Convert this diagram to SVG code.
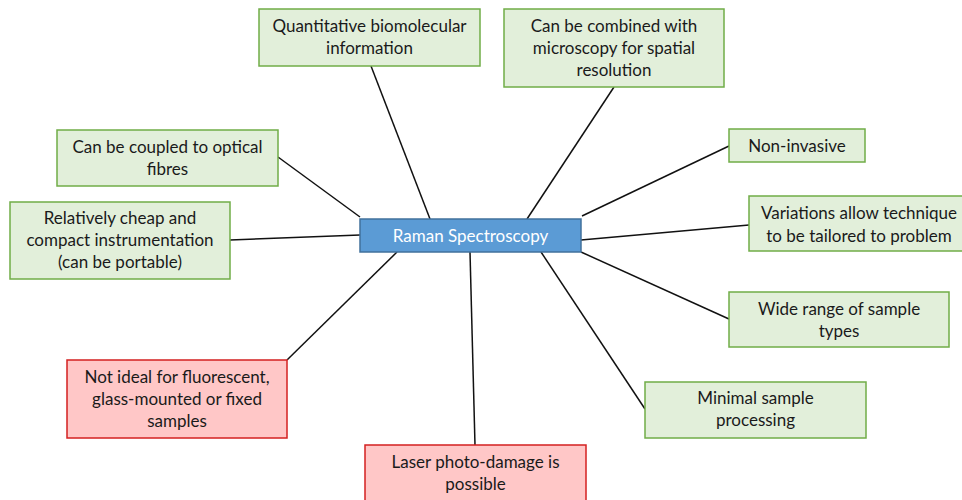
<svg xmlns="http://www.w3.org/2000/svg" width="962" height="500" viewBox="0 0 962 500">
<style>
.g rect{fill:#E2EFDA;stroke:#70AD47;stroke-width:1.5}
.r rect{fill:#FFC7C7;stroke:#D42020;stroke-width:1.5}
.c rect{fill:#5B9BD5;stroke:#41719C;stroke-width:1.5}
text{font-family:Lato,"Open Sans",sans-serif;font-size:17px;fill:#1a1a1a;text-anchor:middle}
.c text{fill:#ffffff}
#connectors line{stroke:#111;stroke-width:1.5}
</style>
<rect width="962" height="500" fill="#ffffff"/>
<g id="connectors">
<line x1="371" y1="66" x2="430" y2="219"/>
<line x1="614" y1="87" x2="527" y2="219"/>
<line x1="729" y1="146" x2="582" y2="216"/>
<line x1="749" y1="225" x2="581" y2="240"/>
<line x1="729" y1="319" x2="581" y2="252"/>
<line x1="645" y1="409" x2="541" y2="252"/>
<line x1="475" y1="445" x2="470" y2="252"/>
<line x1="287" y1="360" x2="397" y2="252"/>
<line x1="230" y1="240" x2="360" y2="235"/>
<line x1="278" y1="157" x2="360" y2="217"/>
</g>
<g id="center" class="c"><rect x="360" y="219" width="221" height="33"/><text x="470.5" y="242">Raman Spectroscopy</text></g>
<g id="quant" class="g"><rect x="259" y="9" width="221" height="57"/><text x="369.5" y="32">Quantitative biomolecular</text><text x="369.5" y="54">information</text></g>
<g id="micro" class="g"><rect x="504" y="9" width="220" height="78"/><text x="614" y="32">Can be combined with</text><text x="614" y="54">microscopy for spatial</text><text x="614" y="76">resolution</text></g>
<g id="noninv" class="g"><rect x="729" y="129" width="136" height="33"/><text x="797" y="152">Non-invasive</text></g>
<g id="variations" class="g"><rect x="749" y="196" width="216" height="55"/><text x="859" y="219">Variations allow technique</text><text x="859" y="242">to be tailored to problem</text></g>
<g id="widerange" class="g"><rect x="729" y="292" width="220" height="55"/><text x="839" y="315">Wide range of sample</text><text x="839" y="337">types</text></g>
<g id="minimal" class="g"><rect x="645" y="382" width="221" height="56"/><text x="755.5" y="404">Minimal sample</text><text x="755.5" y="426">processing</text></g>
<g id="laser" class="r"><rect x="365" y="445" width="221" height="60"/><text x="475.5" y="468">Laser photo-damage is</text><text x="475.5" y="490">possible</text></g>
<g id="notideal" class="r"><rect x="67" y="360" width="220" height="78"/><text x="177" y="383">Not ideal for fluorescent,</text><text x="177" y="405">glass-mounted or fixed</text><text x="177" y="427">samples</text></g>
<g id="cheap" class="g"><rect x="10" y="202" width="220" height="77"/><text x="120" y="224">Relatively cheap and</text><text x="120" y="246">compact instrumentation</text><text x="120" y="268">(can be portable)</text></g>
<g id="fibres" class="g"><rect x="57" y="130" width="221" height="56"/><text x="167.5" y="153">Can be coupled to optical</text><text x="167.5" y="175">fibres</text></g>
</svg>
